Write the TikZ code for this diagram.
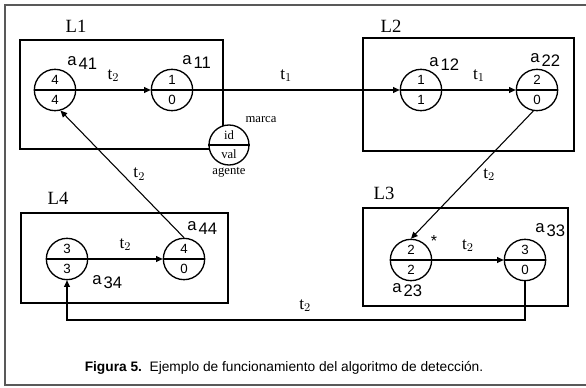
\documentclass[tikz,border=0pt]{standalone}
\usepackage{fontspec}
\setmainfont{Liberation Serif}
\setsansfont{Liberation Sans}
\usetikzlibrary{arrows.meta}
\begin{document}
\begin{tikzpicture}[x=0.75pt,y=-0.75pt,
  agent/.style={circle,draw,line width=1pt,minimum size=31pt,inner sep=0pt},
  lbox/.style={draw,line width=1pt},
  conn/.style={line width=0.8pt,-{Triangle[length=5pt,width=4.5pt]}},
  dig/.style={font=\sffamily\fontsize{10}{11}\selectfont,inner sep=0pt},
  alab/.style={anchor=west,font=\sffamily\fontsize{12.5}{13}\selectfont,inner sep=0pt},
  tlab/.style={font=\fontsize{13}{14}\selectfont,inner sep=0pt},
  llab/.style={font=\fontsize{14}{15}\selectfont,inner sep=0pt},
  small/.style={font=\fontsize{9.5}{10}\selectfont,inner sep=0pt}
]
\useasboundingbox (0,0) rectangle (586,388);
% frame
\draw[line width=1.6pt,gray!70!black] (586,5) -- (5,5) -- (5,385) -- (586,385);
% site boxes
\draw[lbox] (20,40) rectangle (223,149);
\draw[lbox] (363,38) rectangle (574,151);
\draw[lbox] (363,208) rectangle (568,306);
\draw[lbox] (21,213) rectangle (228,303);
\node[llab] (L1) at (76,26) {L1};
\node[llab] (L2) at (391,26) {L2};
\node[llab] (L3) at (384,193) {L3};
\node[llab] (L4) at (58,198) {L4};
% agents
\newcommand{\agentnode}[4]{%
  \node[agent,fill=white] (#1) at (#2) {};
  \draw[line width=1pt] (#1.west) -- (#1.east);
  \node[dig] (#1t) at ([yshift=7.5pt]#1.center) {#3};
  \node[dig] (#1b) at ([yshift=-7.5pt]#1.center) {#4};}
\agentnode{a41}{55,90}{4}{4}
\agentnode{a11}{172,90}{1}{0}
\agentnode{a12}{421,90}{1}{1}
\agentnode{a22}{537,90}{2}{0}
\agentnode{a23}{411,260}{2}{2}
\agentnode{a33}{525,260}{3}{0}
\agentnode{a34}{67,259}{3}{3}
\agentnode{a44}{184,259}{4}{0}
% legend agent
\node[agent,minimum size=30pt,fill=white] (ag) at (229,145) {};
\draw[line width=1pt] (ag.west) -- (ag.east);
\node[small] (agid) at ([yshift=7pt]ag.center) {id};
\node[small] (agval) at ([yshift=-7pt]ag.center) {val};
\node[small] (marca) at (261,120) {marca};
\node[small] (agente) at (229,172) {agente};
% agent labels
\newcommand{\alabel}[3]{\node[alab] (#1) at (#2) {a\hspace{1.5pt}\raisebox{-3pt}{#3}};}
\alabel{la41}{67,63}{41}
\alabel{la11}{182,62}{11}
\alabel{la12}{429,64}{12}
\alabel{la22}{530,60}{22}
\alabel{la33}{535,230}{33}
\alabel{la44}{187,228}{44}
\alabel{la34}{92,282}{34}
\alabel{la23}{392,290}{23}
\node[font=\sffamily\fontsize{12}{12}\selectfont,inner sep=0pt] (star) at (434,241) {*};
% connectors
\draw[conn] (a41) -- node[tlab,above=6pt] (t1) {t$_2$} (a11);
\draw[conn] (a11) -- node[tlab,above=6pt,pos=0.45] (t2) {t$_1$} (a12);
\draw[conn] (a12) -- node[tlab,above=6pt] (t3) {t$_1$} (a22);
\draw[conn] (a22.-100) -- node[tlab,right=8pt,pos=0.5] (t4) {t$_2$} (a23.north);
\draw[conn] (a23) -- node[tlab,above=6pt] (t5) {t$_2$} (a33);
\coordinate (c1) at (525,320);
\coordinate (c2) at (67,320);
\draw[conn] (a33.south) -- (c1) -- node[tlab,above=6pt,pos=0.48] (t6) {t$_2$} (c2) -- (a34.south);
\draw[conn] (a34) -- node[tlab,above=6pt] (t7) {t$_2$} (a44);
\draw[conn] (a44.north) -- node[tlab,right=8pt,pos=0.5] (t8) {t$_2$} (a41.-75);
% caption
\node[font=\sffamily\fontsize{10.3}{12}\selectfont,inner sep=0pt] (cap) at (284,368)
  {\textbf{Figura 5.}\ \ Ejemplo de funcionamiento del algoritmo de detección.};
\end{tikzpicture}
\end{document}
